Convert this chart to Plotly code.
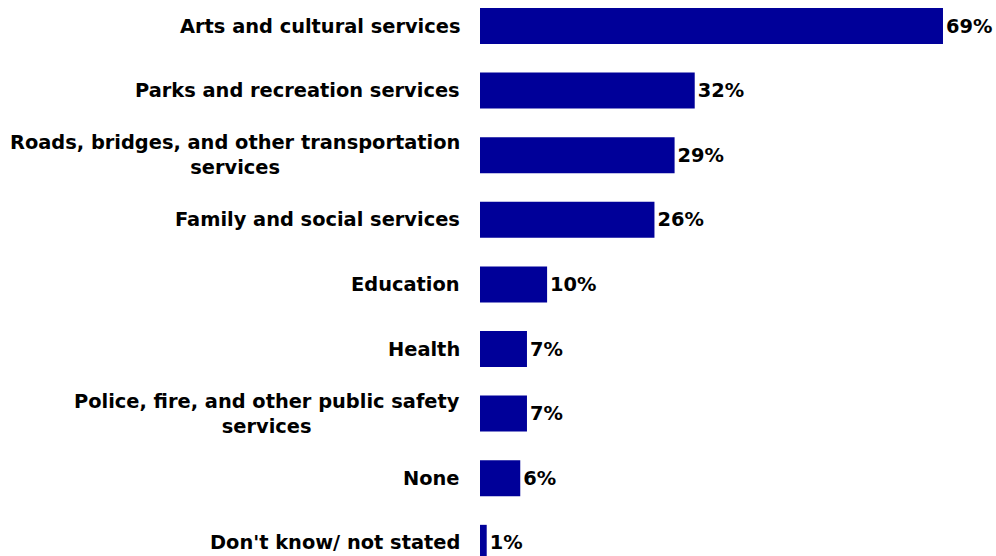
import plotly.graph_objects as go

categories = [
    "Arts and cultural services",
    "Parks and recreation services",
    "Roads, bridges, and other transportation<br>services",
    "Family and social services",
    "Education",
    "Health",
    "Police, fire, and other public safety<br>services",
    "None",
    "Don't know/ not stated",
]
values = [69, 32, 29, 26, 10, 7, 7, 6, 1]
value_labels = [f"{v}%" for v in values]

BAR_COLOR = "#000099"
FONT = dict(family="DejaVu Sans", size=19.4, color="#000000", weight="bold")

fig = go.Figure(
    go.Bar(
        x=values,
        y=categories,
        orientation="h",
        marker=dict(color=BAR_COLOR, line=dict(width=0)),
        text=value_labels,
        textposition="outside",
        textfont=FONT,
        cliponaxis=False,
        hoverinfo="skip",
    )
)

for cat in categories:
    fig.add_annotation(
        x=0, xref="x", y=cat, yref="y",
        text=cat, showarrow=False,
        xanchor="right", yanchor="middle", xshift=-18,
        align="center", font=FONT,
    )

fig.update_layout(
    width=996, height=556,
    margin=dict(l=480, r=0, t=0, b=0, pad=0),
    paper_bgcolor="white", plot_bgcolor="white",
    bargap=0.443,
    showlegend=False,
    xaxis=dict(visible=False, range=[0, 76.9], fixedrange=True),
    yaxis=dict(
        type="category", categoryorder="array", categoryarray=categories,
        range=[8.204, -0.4025], showticklabels=False, showgrid=False,
        zeroline=False, showline=False, ticks="", fixedrange=True,
    ),
)

fig.write_html("out.html", config={"displayModeBar": False, "staticPlot": True})

# remove the browser's default page margin so the figure sits at the top-left corner
with open("out.html", "r", encoding="utf-8") as f:
    html = f.read()
html = html.replace("<head>", "<head><style>html,body{margin:0;padding:0;overflow:hidden;}</style>", 1)
with open("out.html", "w", encoding="utf-8") as f:
    f.write(html)
